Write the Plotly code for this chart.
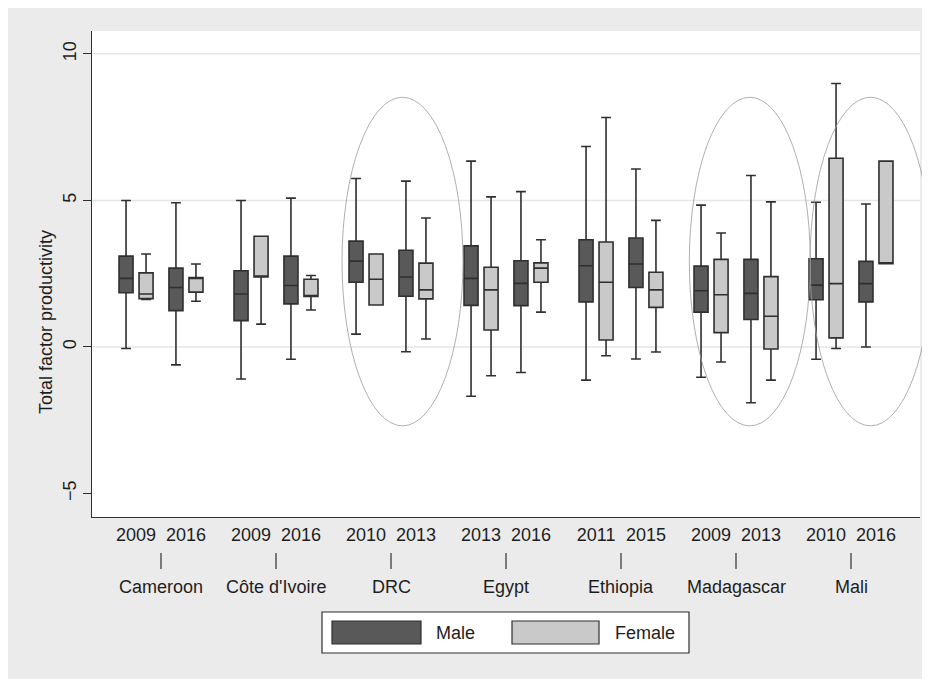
import plotly.graph_objects as go

# ---------------- data ----------------
countries = ["Cameroon", "Côte d'Ivoire", "DRC", "Egypt", "Ethiopia", "Madagascar", "Mali"]
years = [["2009", "2016"], ["2009", "2016"], ["2010", "2013"], ["2013", "2016"],
         ["2011", "2015"], ["2009", "2013"], ["2010", "2016"]]

# order: country by country, first survey year then second
male_lower = [-0.05, -0.61, -1.09, -0.42, 0.44, -0.16, -1.68, -0.87, -1.13, -0.41, -1.03, -1.90, -0.42, 0.00]
male_q1 = [1.85, 1.24, 0.90, 1.47, 2.21, 1.73, 1.42, 1.41, 1.54, 2.03, 1.19, 0.94, 1.61, 1.54]
male_median = [2.34, 2.03, 1.81, 2.10, 2.93, 2.39, 2.34, 2.17, 2.77, 2.83, 1.92, 1.83, 2.11, 2.16]
male_q3 = [3.10, 2.69, 2.60, 3.10, 3.61, 3.30, 3.45, 2.94, 3.66, 3.72, 2.76, 2.99, 3.01, 2.92]
male_upper = [5.00, 4.92, 5.00, 5.08, 5.75, 5.66, 6.34, 5.30, 6.84, 6.07, 4.84, 5.85, 4.94, 4.88]

female_lower = [1.62, 1.56, 0.78, 1.26, 1.43, 0.27, -0.98, 1.19, -0.30, -0.17, -0.51, -1.13, -0.05, 2.84]
female_q1 = [1.65, 1.87, 2.39, 1.72, 1.43, 1.64, 0.58, 2.21, 0.24, 1.35, 0.49, -0.07, 0.31, 2.84]
female_median = [1.81, 2.35, 2.40, 1.74, 2.31, 1.95, 1.95, 2.69, 2.21, 1.95, 1.78, 1.05, 2.16, 2.85]
female_q3 = [2.53, 2.37, 3.78, 2.31, 3.17, 2.86, 2.72, 2.87, 3.58, 2.55, 2.99, 2.40, 6.44, 6.34]
female_upper = [3.17, 2.83, 3.78, 2.44, 3.17, 4.40, 5.12, 3.66, 7.83, 4.32, 3.89, 4.95, 8.99, 6.34]

y_ticks = [-5, 0, 5, 10]
grid_values = [0, 5, 10]
highlighted = ["DRC", "Madagascar", "Mali"]

# ---------------- layout geometry ----------------
OFF = 8  # page body margin
W, H = 930, 679
L, T = 84, 23
PW, PH = 828, 486
R = W - L - PW
B = H - T - PH
XMIN, XMAX = -0.6, 6.6
YMIN, YMAX = -5.80, 10.78
YEAR_OFF, SEX_OFF, BOX_W = 0.217, 0.087, 0.122

FONT = "Liberation Sans, Arial, Helvetica, sans-serif"
TXT = "#1e1e1e"
LINE = "#2f2f2f"
MALE_FILL = "#595959"
FEMALE_FILL = "#c9c9c9"
BG = "#ebebeb"


def px_x(px):  # page pixel -> paper x
    return (px - OFF - L) / PW


def px_y(py):  # page pixel -> paper y
    return (T + PH - (py - OFF)) / PH


def dx(x):
    return (x - XMIN) / (XMAX - XMIN)


def dy(v):
    return (v - YMIN) / (YMAX - YMIN)


year_pos, year_txt = [], []
for ci, yrs in enumerate(years):
    for yi, yr in enumerate(yrs):
        year_pos.append(ci + (2 * yi - 1) * YEAR_OFF)
        year_txt.append(yr)

fig = go.Figure()
for name, sign, fill, lo, q1, me, q3, up in [
    ("Male", -1, MALE_FILL, male_lower, male_q1, male_median, male_q3, male_upper),
    ("Female", 1, FEMALE_FILL, female_lower, female_q1, female_median, female_q3, female_upper),
]:
    fig.add_trace(go.Box(
        name=name,
        x=[p + sign * SEX_OFF for p in year_pos],
        q1=q1, median=me, q3=q3, lowerfence=lo, upperfence=up,
        width=BOX_W, whiskerwidth=0.7, boxpoints=False,
        fillcolor=fill, line=dict(color=LINE, width=1.6),
        showlegend=False, hoverinfo="skip",
    ))

shapes = []
# gridlines
for g in grid_values:
    shapes.append(dict(type="line", xref="x", yref="y", x0=XMIN, x1=XMAX, y0=g, y1=g,
                       line=dict(color="#e6e6e6", width=1.5), layer="below"))
# ellipses around highlighted countries
ell_center = {"DRC": 2.10, "Madagascar": 5.12, "Mali": 6.17}
for c in highlighted:
    xc = ell_center[c]
    shapes.append(dict(type="circle", xref="paper", yref="paper",
                       x0=dx(xc - 0.526), x1=dx(xc + 0.526), y0=dy(-2.69), y1=dy(8.52),
                       line=dict(color="#9a9a9a", width=0.8), layer="above"))
# country tick marks
for ci in range(len(countries)):
    shapes.append(dict(type="line", xref="paper", yref="paper", x0=dx(ci), x1=dx(ci),
                       y0=px_y(553), y1=px_y(569), line=dict(color=LINE, width=1.2)))
# legend
shapes.append(dict(type="rect", xref="paper", yref="paper", x0=px_x(322), x1=px_x(689),
                   y0=px_y(653), y1=px_y(612), fillcolor="white", line=dict(color=LINE, width=1.2)))
shapes.append(dict(type="rect", xref="paper", yref="paper", x0=px_x(332), x1=px_x(421),
                   y0=px_y(644), y1=px_y(621), fillcolor=MALE_FILL, line=dict(color=LINE, width=1.2)))
shapes.append(dict(type="rect", xref="paper", yref="paper", x0=px_x(512), x1=px_x(599),
                   y0=px_y(644), y1=px_y(621), fillcolor=FEMALE_FILL, line=dict(color=LINE, width=1.2)))

annotations = []
for ci, c in enumerate(countries):
    annotations.append(dict(text=c, xref="x", yref="paper", x=ci, y=px_y(587),
                            xanchor="center", yanchor="middle", showarrow=False,
                            font=dict(family=FONT, size=18, color=TXT)))
annotations.append(dict(text="Male", xref="paper", yref="paper", x=px_x(434), y=px_y(633),
                        xanchor="left", yanchor="middle", showarrow=False,
                        font=dict(family=FONT, size=18, color=TXT)))
annotations.append(dict(text="Female", xref="paper", yref="paper", x=px_x(613), y=px_y(633),
                        xanchor="left", yanchor="middle", showarrow=False,
                        font=dict(family=FONT, size=18, color=TXT)))
annotations.append(dict(text="Total factor productivity", xref="paper", yref="paper",
                        x=px_x(46), y=px_y(322), xanchor="center", yanchor="middle",
                        textangle=-90, showarrow=False,
                        font=dict(family=FONT, size=18, color=TXT)))

fig.update_layout(
    width=W, height=H,
    margin=dict(l=L, r=R, t=T, b=B, pad=0),
    paper_bgcolor=BG, plot_bgcolor="white",
    shapes=shapes, annotations=annotations,
    showlegend=False,
    boxmode="overlay",
)
fig.update_xaxes(range=[XMIN, XMAX], tickmode="array", tickvals=year_pos, ticktext=year_txt,
                 ticks="", ticklabelstandoff=1, showgrid=False, zeroline=False,
                 showline=True, linecolor=LINE, linewidth=1.4,
                 tickfont=dict(family=FONT, size=18, color=TXT))
fig.update_yaxes(range=[YMIN, YMAX], tickmode="array", tickvals=y_ticks,
                 ticks="outside", ticklen=8, tickwidth=1.2, tickcolor=LINE, tickangle=-90,
                 showgrid=False, zeroline=False, showline=True, linecolor=LINE, linewidth=1.4,
                 tickfont=dict(family=FONT, size=18, color=TXT))

fig.write_html("out.html")
